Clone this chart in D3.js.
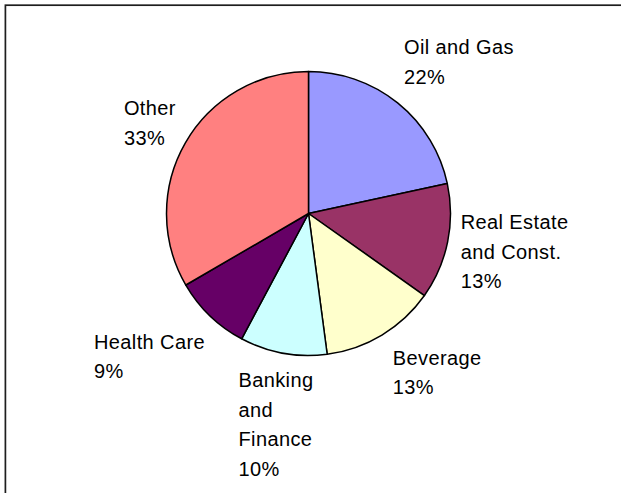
<!DOCTYPE html>
<html>
<head>
<meta charset="utf-8">
<script src="https://cdn.jsdelivr.net/npm/d3@7"></script>
<style>
  html, body { margin: 0; padding: 0; background: #ffffff; }
  svg { display: block; }
  text { font-family: "Liberation Sans", Arial, sans-serif; font-size: 20px; letter-spacing: 0.4px; fill: #000; }
</style>
</head>
<body>
<svg id="chart" width="621" height="493"></svg>
<script>
// ---- data ----
const categories = ["Oil and Gas", "Real Estate and Const.", "Beverage", "Banking and Finance", "Health Care", "Other"];
const shares = [21.6, 13.2, 13.1, 9.9, 8.8, 33.4];
const labelLines = [["Oil and Gas"], ["Real Estate", "and Const."], ["Beverage"], ["Banking", "and", "Finance"], ["Health Care"], ["Other"]];
const colors = ["#9999FF", "#993366", "#FFFFCC", "#CCFFFF", "#660066", "#FF8080"];

// ---- layout ----
const W = 621, H = 493;
const cx = 308.5, cy = 213.5, radius = 142;
const lineH = 29.5;
// label offsets relative to the outer mid-angle point of each slice (left x, first baseline)
const labelOffsets = [[6.3, -48.7], [13, -12.8], [10.8, 29.9], [-44.8, 34.1], [-116.1, 33.2], [-61.5, -27.7]];

const svg = d3.select("#chart");

// frame
svg.append("rect")
  .attr("x", 5.4).attr("y", 5.2)
  .attr("width", W + 20).attr("height", H + 20)
  .attr("fill", "none").attr("stroke", "#1e1e1e").attr("stroke-width", 1.7);

const data = categories.map((c, i) => ({ name: c, value: shares[i], lines: labelLines[i], color: colors[i], off: labelOffsets[i] }));

const pie = d3.pie().value(d => d.value).sort(null);
const arcs = pie(data);
const arc = d3.arc().innerRadius(0).outerRadius(radius);

const g = svg.append("g").attr("transform", `translate(${cx},${cy})`);

g.selectAll("path.slice")
  .data(arcs)
  .join("path")
  .attr("class", "slice")
  .attr("d", arc)
  .attr("fill", d => d.data.color)
  .attr("stroke", "#000")
  .attr("stroke-width", 1.5)
  .attr("stroke-linejoin", "round");

const total = d3.sum(shares);

g.selectAll("text.lbl")
  .data(arcs)
  .join("text")
  .attr("class", "lbl")
  .each(function(d) {
    const mid = (d.startAngle + d.endAngle) / 2;
    const px = radius * Math.sin(mid) + d.data.off[0];
    const py = -radius * Math.cos(mid) + d.data.off[1];
    const t = d3.select(this);
    const lines = d.data.lines.concat([Math.round(d.data.value / total * 100) + "%"]);
    lines.forEach((ln, k) => {
      t.append("tspan").attr("x", px).attr("y", py + k * lineH).text(ln);
    });
  });
</script>
</body>
</html>
